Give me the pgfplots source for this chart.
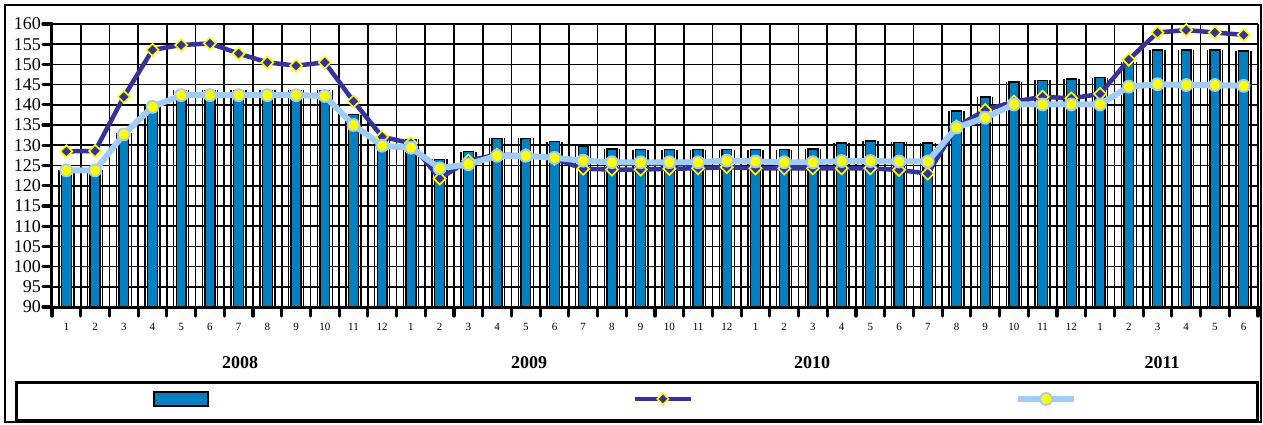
\documentclass[border=0pt]{standalone}
\usepackage{pgfplots}
\usepackage{pgfplotstable}
\pgfplotsset{compat=1.18}
\usepackage{fontspec}
\setmainfont{Liberation Serif}
\definecolor{barblue}{RGB}{0,128,192}
\definecolor{navy}{RGB}{51,51,153}
\definecolor{lightb}{RGB}{160,204,245}
\definecolor{yel}{RGB}{255,255,0}

\pgfplotstableread{
x bar dark light
0 124.0 128.5 123.8
1 124.0 128.6 123.8
2 133.0 142.0 132.7
3 140.0 153.6 139.5
4 143.6 154.8 142.4
5 143.6 155.2 142.4
6 143.6 152.7 142.4
7 143.6 150.5 142.4
8 143.6 149.7 142.4
9 143.6 150.5 142.2
10 137.6 140.9 135.0
11 132.0 132.1 129.9
12 131.5 130.5 129.4
13 126.5 121.8 124.3
14 128.4 126.2 125.3
15 131.7 127.7 127.4
16 131.7 127.5 127.4
17 130.9 126.7 126.9
18 129.8 124.2 126.2
19 129.1 124.0 125.8
20 128.9 124.0 125.8
21 128.9 124.2 125.8
22 128.9 124.3 125.8
23 128.9 124.6 126.2
24 128.9 124.3 126.0
25 128.9 124.3 125.8
26 129.1 124.3 125.8
27 130.6 124.3 126.1
28 131.1 124.3 126.1
29 130.7 123.9 126.0
30 130.6 123.0 126.0
31 138.5 134.6 134.4
32 141.9 138.7 136.8
33 145.7 140.8 140.1
34 146.1 142.0 140.1
35 146.4 141.6 140.1
36 146.7 142.7 140.1
37 150.7 151.2 144.5
38 153.6 157.9 145.1
39 153.6 158.5 144.9
40 153.6 157.9 144.9
41 153.3 157.3 144.7
}\datatable

\begin{document}
\begin{tikzpicture}
\useasboundingbox (-52pt,-117pt) rectangle (1211pt,307pt);
\begin{axis}[
  at={(0pt,0pt)}, anchor=south west,
  scale only axis, width=1206pt, height=283pt,
  xmin=-0.5, xmax=41.5, ymin=90, ymax=160,
  axis x line*=bottom, axis y line*=left,
  axis line style={line width=3pt, black, -},
  xtick={0,...,41},
  xticklabels={1,2,3,4,5,6,7,8,9,10,11,12,1,2,3,4,5,6,7,8,9,10,11,12,1,2,3,4,5,6,7,8,9,10,11,12,1,2,3,4,5,6},
  minor xtick={-0.5,0.5,...,41.5},
  ytick={90,95,...,160},
  xmajorgrids=false, xminorgrids=true, ymajorgrids=true,
  grid style={black, line width=1.7pt},
  minor grid style={black, line width=1.7pt},
  tick align=outside,
  major tick length=9pt, minor tick length=9pt,
  every major tick/.append style={black, line width=3.2pt, line cap=round},
  every minor tick/.append style={black, line width=3.2pt, line cap=round},
  every major x tick/.append style={draw=none},
  /pgf/number format/assume math mode=true,
  yticklabel style={font=\fontsize{18}{18}\selectfont, inner sep=2pt},
  xticklabel style={font=\fontsize{11}{11}\selectfont, yshift=-4pt},
  legend style={draw=none, fill=none, at={(0.0837,-0.325)}, anchor=west,
    legend columns=3, inner xsep=0pt, inner ysep=0pt,
    nodes={inner sep=0pt}, /tikz/column sep=0pt},
]
\addplot[ycomb, black, line width=1.3pt, xshift=7.5pt, forget plot] table[x=x,y=bar]{\datatable};
\addplot[ycomb, black, line width=1.3pt, xshift=-7.5pt, forget plot] table[x=x,y=bar]{\datatable};
\addplot[ybar, bar width=0.34, fill=barblue, draw=black, line width=1.4pt,
  legend image code/.code={\draw[fill=barblue, draw=black, line width=1.5pt] (0pt,-7pt) rectangle (54pt,7pt);}]
  table[x=x,y=bar]{\datatable};
\addlegendentry{\hspace*{424pt}}
\addplot[navy, line width=4.5pt, mark=square*, mark size=4.3pt,
  mark options={rotate=45, fill=navy, draw=yel, line width=1.6pt},
  legend image code/.code={\draw[navy, line width=4.5pt] (0pt,0pt) -- (56pt,0pt); \draw[fill=navy, draw=yel, line width=1.5pt, rotate around={45:(28pt,0pt)}] (24pt,-4pt) rectangle (32pt,4pt);}]
  table[x=x,y=dark]{\datatable};
\addlegendentry{\hspace*{322pt}}
\addplot[lightb, line width=6pt, mark=*, mark size=6pt,
  mark options={fill=yel, draw=lightb, line width=1.8pt},
  legend image code/.code={\draw[lightb, line width=6pt] (0pt,0pt) -- (56pt,0pt); \draw[fill=yel, draw=lightb, line width=1.8pt] (28pt,0pt) circle (6pt);}]
  table[x=x,y=light]{\datatable};
\addlegendentry{}
\end{axis}
\draw[line width=1.5pt] (-47pt,302pt) rectangle (1209pt,-115pt);
\draw[line width=3pt] (-35pt,-75pt) rectangle (1205pt,-113pt);
\node[font=\fontsize{18}{18}\selectfont\bfseries] at (188pt,-56pt) {2008};
\node[font=\fontsize{18}{18}\selectfont\bfseries] at (477pt,-56pt) {2009};
\node[font=\fontsize{18}{18}\selectfont\bfseries] at (760pt,-56pt) {2010};
\node[font=\fontsize{18}{18}\selectfont\bfseries] at (1110pt,-56pt) {2011};
\end{tikzpicture}
\end{document}
